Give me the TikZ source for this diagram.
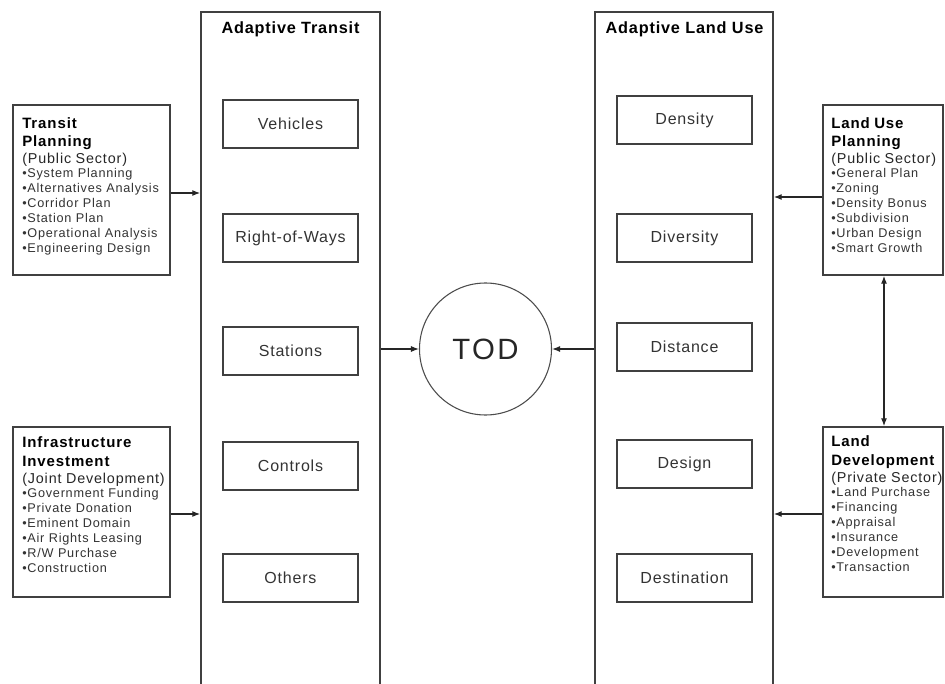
\documentclass[tikz,border=0pt]{standalone}
\usepackage{fontspec}
\setmainfont{Liberation Sans}[LetterSpace=5]
\newfontfamily\sidefont{Liberation Sans}[LetterSpace=6]
\newfontfamily\todfont{Liberation Sans}[LetterSpace=8]
\usetikzlibrary{fit,arrows.meta}
\begin{document}
\begin{tikzpicture}[x=0.75pt,y=-0.75pt,
  col/.style={draw=black!75,line width=1.1pt,inner sep=0pt},
  inbox/.style={draw=black!75,line width=1.1pt,minimum width=101.25pt,minimum height=36pt,inner sep=0pt,
     font=\fontsize{12}{14}\selectfont,text=black!80},
  side/.style={draw=black!75,line width=1.1pt,inner sep=0pt},
  coltitle/.style={font=\bfseries\fontsize{12.2}{14}\selectfont,inner sep=0pt},
  sidetext/.style={anchor=north west,inner sep=0pt,align=left,text width=150pt},
  arr/.style={-{Latex[length=6pt,width=4.5pt]},line width=0.9pt,draw=black!85},
  darr/.style={{Latex[length=6pt,width=4.5pt]}-{Latex[length=6pt,width=4.5pt]},line width=0.9pt,draw=black!85},
]
\useasboundingbox (0,0) rectangle (945,684);
\clip (0,0) rectangle (945,684);
\fill[white] (0,0) rectangle (945,684);

% columns
\node[col,fit={(201,12) (380,700)}] (lcol) {};
\node[col,fit={(595,12) (773,700)}] (rcol) {};
\node[coltitle] (ltitle) at (290.5,29) {Adaptive Transit};
\node[coltitle] (rtitle) at (684.5,29) {Adaptive Land Use};

% inner boxes left
\node[inbox] (veh) at (290.5,124) {Vehicles};
\node[inbox] (row) at (290.5,238) {Right-of-Ways};
\node[inbox] (sta) at (290.5,351) {Stations};
\node[inbox] (con) at (290.5,466) {Controls};
\node[inbox] (oth) at (290.5,578) {Others};

% inner boxes right
\node[inbox] (den) at (684.5,120) {Density};
\node[inbox] (div) at (684.5,238) {Diversity};
\node[inbox] (dis) at (684.5,347) {Distance};
\node[inbox] (des) at (684.5,464) {Design};
\node[inbox] (dst) at (684.5,578) {Destination};

% TOD
\node[circle,draw=black!70,line width=0.8pt,minimum size=99pt,inner sep=0pt,
      font=\todfont\fontsize{22}{25}\selectfont,text=black!85] (tod) at (485.5,349) {TOD};

% side boxes
\node[side,fit={(13,105) (170,275)}] (tp) {};
\node[side,fit={(13,427) (170,597)}] (ii) {};
\node[side,fit={(823,105) (943,275)}] (lup) {};
\node[side,fit={(823,427) (943,597)}] (ld) {};

\newcommand\sub[1]{{\color{black!85}\fontsize{10.75}{12.75}\selectfont #1\par}\vskip-0.6pt}
\newcommand\bul[1]{{\color{black!80}\fontsize{9.5}{11.25}\selectfont #1\par}}

\node[sidetext] (tptext) at (22,117) {\sidefont
  {\bfseries\fontsize{11.25}{13.9}\selectfont Transit\par Planning\par}
  \sub{(Public Sector)}
  \bul{\textbullet System Planning\par \textbullet Alternatives Analysis\par
   \textbullet Corridor Plan\par \textbullet Station Plan\par \textbullet Operational Analysis\par
   \textbullet Engineering Design}};

\node[sidetext] (iitext) at (22,436) {\sidefont
  {\bfseries\fontsize{11.25}{14.5}\selectfont Infrastructure\par Investment\par}
  \sub{(Joint Development)}
  \bul{\textbullet Government Funding\par \textbullet Private Donation\par
   \textbullet Eminent Domain\par \textbullet Air Rights Leasing\par \textbullet R/W Purchase\par
   \textbullet Construction}};

\node[sidetext] (luptext) at (831,117) {\sidefont
  {\bfseries\fontsize{11.25}{13.9}\selectfont Land Use\par Planning\par}
  \sub{(Public Sector)}
  \bul{\textbullet General Plan\par \textbullet Zoning\par
   \textbullet Density Bonus\par \textbullet Subdivision\par \textbullet Urban Design\par
   \textbullet Smart Growth}};

\node[sidetext] (ldtext) at (831,435) {\sidefont
  {\bfseries\fontsize{11.25}{14.2}\selectfont Land\par Development\par}
  \sub{(Private Sector)}
  \bul{\textbullet Land Purchase\par \textbullet Financing\par
   \textbullet Appraisal\par \textbullet Insurance\par \textbullet Development\par
   \textbullet Transaction}};

% connectors
\draw[arr] ([yshift=-2.25pt]tp.east) -- ([yshift=-2.25pt]tp.east -| lcol.west);
\draw[arr] ([yshift=-1.5pt]ii.east) -- ([yshift=-1.5pt]ii.east -| lcol.west);
\draw[arr] ([yshift=-5.25pt]lup.west) -- ([yshift=-5.25pt]lup.west -| rcol.east);
\draw[arr] ([yshift=-1.5pt]ld.west) -- ([yshift=-1.5pt]ld.west -| rcol.east);
\draw[arr] (lcol.east |- tod.center) -- (tod);
\draw[arr] (rcol.west |- tod.center) -- (tod);
\draw[darr] ([xshift=0.75pt]lup.south) -- ([xshift=0.75pt]ld.north);
\end{tikzpicture}
\end{document}
